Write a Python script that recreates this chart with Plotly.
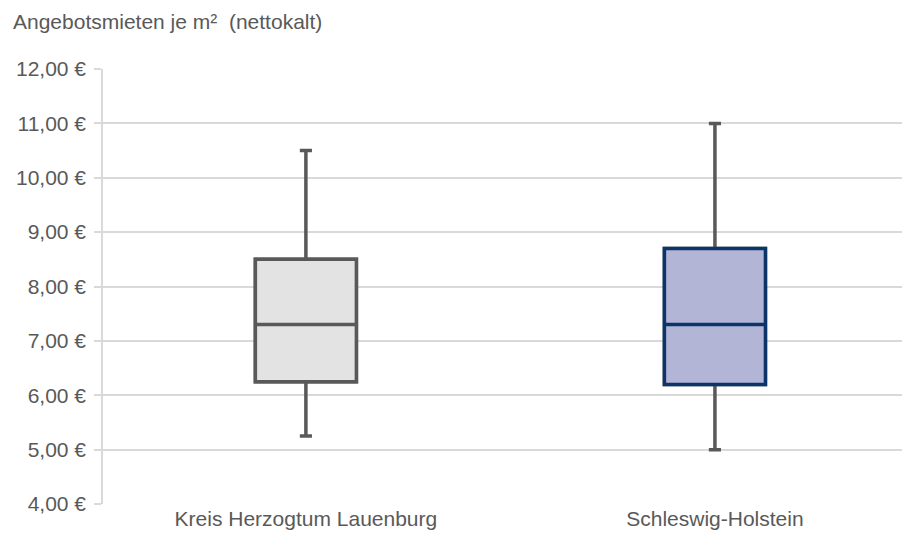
import plotly.graph_objects as go

categories = ["Kreis Herzogtum Lauenburg", "Schleswig-Holstein"]
lower = [5.25, 5.00]
q1 = [6.25, 6.20]
median = [7.30, 7.30]
q3 = [8.50, 8.70]
upper = [10.50, 11.00]

tick_vals = [4, 5, 6, 7, 8, 9, 10, 11, 12]
tick_text = ["4,00 €", "5,00 €", "6,00 €", "7,00 €", "8,00 €", "9,00 €", "10,00 €", "11,00 €", "12,00 €"]

box_lines = ["#595959", "#0b3469"]
box_fills = ["#e3e3e3", "#b3b5d7"]
whisker_color = "#595959"

fig = go.Figure()
xpos = list(range(len(categories)))
for i, cat in enumerate(categories):
    # whiskers (grey)
    fig.add_trace(go.Box(
        x=[xpos[i]], q1=[q1[i]], median=[median[i]], q3=[q3[i]],
        lowerfence=[lower[i]], upperfence=[upper[i]],
        width=0.247, whiskerwidth=0.12,
        line=dict(color=whisker_color, width=3.5),
        fillcolor=box_fills[i], boxpoints=False, showlegend=False, hoverinfo="skip",
    ))
    # box body
    fig.add_trace(go.Box(
        x=[xpos[i]], q1=[q1[i]], median=[median[i]], q3=[q3[i]],
        lowerfence=[q1[i]], upperfence=[q3[i]],
        width=0.247, whiskerwidth=0,
        line=dict(color=box_lines[i], width=3.5),
        fillcolor=box_fills[i], boxpoints=False, showlegend=False, name=cat,
    ))

fig.update_layout(
    width=902, height=537,
    margin=dict(l=95, r=2, t=61, b=41, autoexpand=False),
    paper_bgcolor="white", plot_bgcolor="white",
    boxmode="overlay",
    font=dict(family="Liberation Sans, Arial, sans-serif", color="#595959", size=21),
    annotations=[dict(
        text="Angebotsmieten je m²  (nettokalt)", xref="paper", yref="paper",
        x=-92/805, y=1 + 47/435, xanchor="left", yanchor="middle",
        showarrow=False, font=dict(size=21, color="#595959"),
    )],
)
fig.update_xaxes(
    tickvals=xpos, ticktext=categories, range=[-0.496, 1.472],
    showgrid=False, zeroline=False, showline=False, ticks="",
    tickfont=dict(size=21, color="#595959"),
)
fig.update_yaxes(
    range=[4, 12], tickvals=tick_vals, ticktext=tick_text,
    showgrid=True, gridcolor="#d9d9d9", gridwidth=1.5,
    zeroline=False, showline=True, linecolor="#d9d9d9", linewidth=1.5,
    ticks="outside", ticklen=7, tickcolor="#d9d9d9", tickwidth=1.5,
    ticklabelstandoff=4,
    tickfont=dict(size=21, color="#595959"),
)

fig.write_html("out.html")
